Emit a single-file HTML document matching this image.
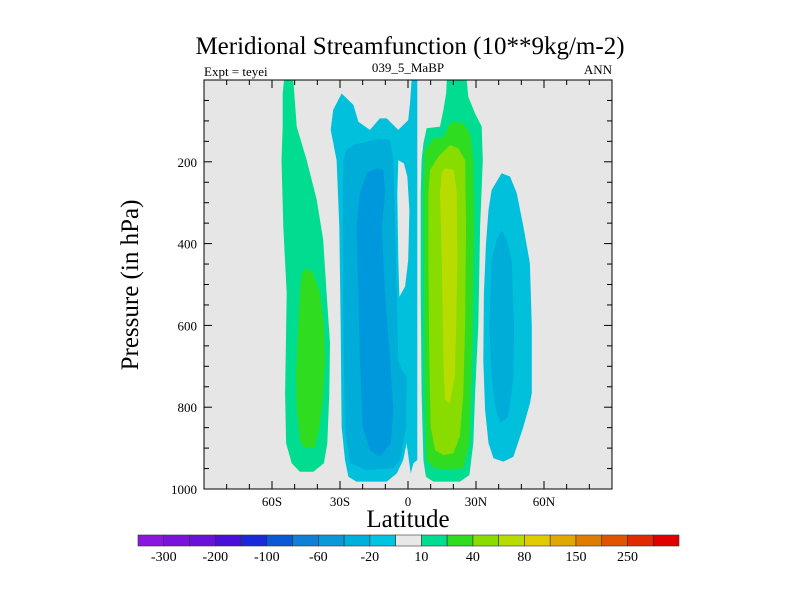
<!DOCTYPE html>
<html><head><meta charset="utf-8"><style>
body{margin:0;background:#fff}
svg{display:block;font-family:"Liberation Serif",serif}
</style></head><body>
<svg id="chart" width="800" height="600" xmlns="http://www.w3.org/2000/svg">
<text x="410" y="54" font-size="25" text-anchor="middle">Meridional Streamfunction (10**9kg/m-2)</text>
<text x="204" y="76" font-size="13">Expt = teyei</text>
<text x="408" y="72" font-size="13" text-anchor="middle">039_5_MaBP</text>
<text x="612" y="74" font-size="13" text-anchor="end">ANN</text>
<text x="408" y="527" font-size="25" text-anchor="middle">Latitude</text>
<text transform="translate(138,285) rotate(-90)" font-size="25" text-anchor="middle">Pressure (in hPa)</text>
<rect x="204" y="80" width="408" height="409" fill="#e6e6e6"/>
<g id="contours"></g>
<g id="axes"></g>
<g id="colorbar"></g>
</svg>
<script>
const latTicks=[-60,-30,0,30,60];
const latTickLabels=["60S","30S","0","30N","60N"];
const presTicks=[200,400,600,800,1000];
const cbColors=["#8a17e0","#7a12dd","#6a10d8","#4a0fd8","#1a2ad8","#0a5ad8","#0f7fd8","#0a98db","#00b0dc","#00c4e0","#e8e8e8","#00dc90","#30dc20","#88dc00","#b8dc00","#e0cc00","#e0a800","#e07c00","#e05400","#e02a00","#e00000"];
const cbLabels=["-300","-200","-100","-60","-20","10","40","80","150","250"];
// contour regions: [colour, [[lat,p],...]]
const leftGreen=[[-54.7,0],[-50.6,0],[-49.1,114],[-44.7,196],[-40.3,293],[-37.4,391],[-35.9,522],[-34.4,644],[-34.7,766],[-35.6,888],[-37.1,937],[-41.8,958],[-47.7,958],[-51.3,937],[-53.8,888],[-54.2,766],[-53.5,522],[-55.0,359],[-55.8,196],[-55.3,114],[-55.3,33]];
const leftGreen2=[[-44.7,460],[-41.8,473],[-38.8,522],[-37.1,603],[-36.6,685],[-37.4,766],[-39.1,848],[-41.0,897],[-44.7,901],[-47.4,888],[-49.1,807],[-49.4,725],[-48.8,644],[-47.7,522],[-46.9,473]];
const blue1=[[-29.3,33],[-24.1,61],[-21.9,102],[-16.8,122],[-12.4,94],[-9.4,94],[-4.3,122],[0.1,98],[0.9,57],[1.6,0],[4.1,0],[4.1,766],[4.1,929],[2.4,937],[1.2,962],[-0.6,888],[-2.1,929],[-5.0,962],[-9.4,982],[-22.7,982],[-26.3,970],[-27.8,929],[-29.3,848],[-29.7,603],[-30.3,359],[-31.5,196],[-34.1,122],[-33.0,73]];
const notch=[[-4.3,196],[-1.8,204],[-0.3,236],[0.6,318],[0.1,440],[-1.3,505],[-3.8,530],[-4.3,440],[-4.7,277]];
const blue2=[[-27.1,171],[-24.1,159],[-12.4,143],[-7.9,147],[-6.5,196],[-5.7,359],[-5.0,522],[-4.3,685],[-2.8,709],[-0.6,725],[-0.9,848],[-3.5,929],[-6.5,949],[-18.2,954],[-25.6,937],[-27.8,848],[-28.5,603],[-28.8,359],[-28.5,196]];
const blue3=[[-18.2,228],[-13.8,216],[-10.9,220],[-10.1,277],[-11.6,359],[-10.1,522],[-7.9,685],[-6.5,807],[-7.6,888],[-12.4,921],[-16.8,905],[-20.0,848],[-21.2,685],[-21.9,522],[-22.7,359],[-21.2,277]];
const rGreen1=[[17.1,0],[25.9,0],[26.6,41],[29.6,82],[32.5,114],[33.0,196],[31.8,359],[31.0,603],[29.6,766],[28.8,888],[27.1,966],[22.9,982],[11.2,982],[7.9,970],[6.8,929],[6.0,766],[5.6,522],[5.6,277],[6.0,196],[6.8,155],[8.2,118],[14.1,114],[15.6,73],[16.8,33]];
const rGreen2=[[20.0,102],[24.4,106],[27.4,130],[28.8,196],[29.1,359],[28.5,603],[27.7,766],[27.1,888],[24.4,949],[20.0,952],[11.2,949],[8.2,929],[7.5,766],[7.1,522],[6.8,277],[7.5,171],[11.2,143],[15.6,139],[18.5,106]];
const rGreen3=[[18.5,159],[22.2,167],[25.2,196],[25.6,359],[25.2,603],[24.4,766],[22.9,872],[20.0,913],[15.6,917],[11.9,905],[10.0,848],[9.4,685],[9.0,440],[9.0,277],[9.7,220],[13.4,187]];
const rYellow=[[16.3,216],[20.3,220],[21.5,277],[21.8,440],[21.2,603],[20.7,725],[18.5,791],[16.3,782],[15.6,685],[14.9,440],[14.1,277],[14.9,228]];
const rCyan=[[41.3,228],[45.0,236],[48.0,277],[50.9,359],[53.8,448],[54.6,603],[54.6,766],[53.8,791],[50.9,848],[46.5,921],[42.1,933],[37.7,925],[35.5,888],[34.0,807],[33.2,685],[33.5,522],[34.4,399],[35.5,318],[36.9,269]];
const rCyan2=[[41.3,367],[43.5,391],[45.7,440],[46.8,603],[46.5,725],[44.3,823],[40.6,838],[38.8,807],[36.9,725],[35.9,603],[36.9,440],[39.1,391]];
const regions=[["#00dc90",leftGreen,"sh-green-outer"],["#30dc20",leftGreen2,"sh-green-core"],["#00c0dc",blue1,"hadley-south-outer"],["#e6e6e6",notch,"equator-gap"],["#00acd8",blue2,"hadley-south-mid"],["#0098dc",blue3,"hadley-south-core"],["#00dc90",rGreen1,"hadley-north-outer"],["#30dc20",rGreen2,"hadley-north-mid"],["#88dc00",rGreen3,"hadley-north-inner"],["#b8dc00",rYellow,"hadley-north-core"],["#00c0dc",rCyan,"ferrel-north-outer"],["#00acd8",rCyan2,"ferrel-north-core"]];

const X=lat=>408+lat*408/180;
const Y=p=>80+p*409/1000;
const NS="http://www.w3.org/2000/svg";
function mk(tag,attrs,parent){const e=document.createElementNS(NS,tag);for(const k in attrs)e.setAttribute(k,attrs[k]);parent.appendChild(e);return e;}
const cg=document.getElementById('contours');
regions.forEach(r=>{
  const pl=mk('polygon',{points:r[1].map(q=>X(q[0]).toFixed(1)+','+Y(q[1]).toFixed(1)).join(' '),fill:r[0]},cg);
  
  
});
const ax=document.getElementById('axes');
const frame=mk('rect',{x:204,y:80,width:408,height:409,fill:'none',stroke:'#000','stroke-width':1},ax);


for(let lat=-80;lat<=80;lat+=10){
  const major=latTicks.includes(lat);const L=major?8:5;
  mk('line',{x1:X(lat),x2:X(lat),y1:489,y2:489-L,stroke:'#000'},ax);
  mk('line',{x1:X(lat),x2:X(lat),y1:80,y2:80+L,stroke:'#000'},ax);
}
latTicks.forEach((lat,i)=>{
  const t=mk('text',{x:X(lat),y:506,'font-size':13,'text-anchor':'middle'},ax);t.textContent=latTickLabels[i];
  
  
});
for(let p=50;p<=1000;p+=50){
  const major=presTicks.includes(p);const L=major?8:5;
  mk('line',{x1:204,x2:204+L,y1:Y(p),y2:Y(p),stroke:'#000'},ax);
  mk('line',{x1:612,x2:612-L,y1:Y(p),y2:Y(p),stroke:'#000'},ax);
}
presTicks.forEach(p=>{
  const t=mk('text',{x:197,y:Y(p)+5,'font-size':13,'text-anchor':'end'},ax);t.textContent=p;
  
  
});
const cb=document.getElementById('colorbar');
const cx0=138,cx1=679,cw=(cx1-cx0)/cbColors.length;
cbColors.forEach((c,i)=>{
  const r=mk('rect',{x:cx0+i*cw,y:535,width:cw,height:11,fill:c,stroke:'#333','stroke-width':0.6},cb);
  
  
});
cbLabels.forEach((l,i)=>{
  const t=mk('text',{x:cx0+(2*i+1)*cw,y:561,'font-size':14,'text-anchor':'middle'},cb);t.textContent=l;
  
  
});
</script>
</body></html>
